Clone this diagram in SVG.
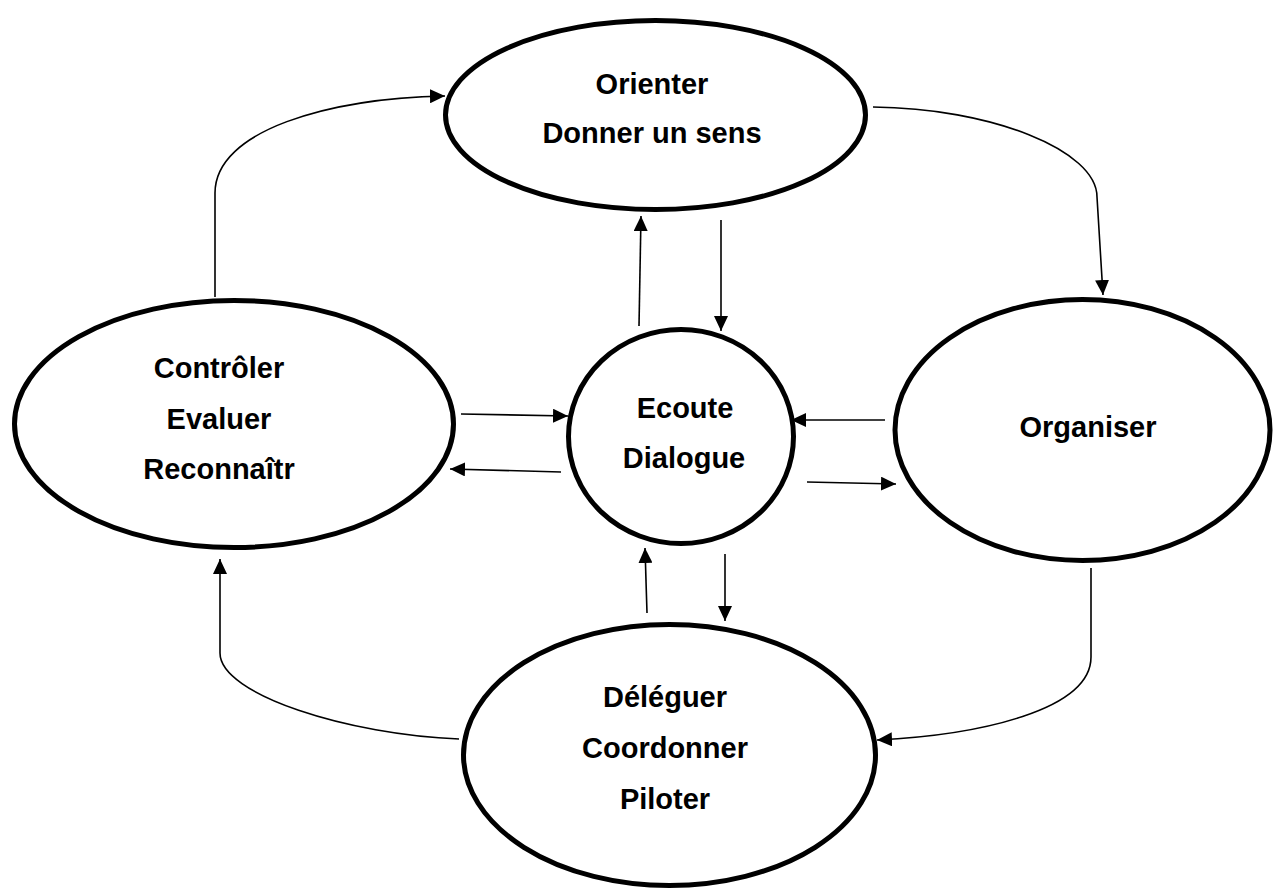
<svg xmlns="http://www.w3.org/2000/svg" width="1273" height="888" viewBox="0 0 1273 888">
<defs>
<style>
.node{fill:#fff;stroke:#000;stroke-width:5}
.lbl{font-family:"Liberation Sans",Arial,sans-serif;font-weight:bold;font-size:29px;text-anchor:middle;fill:#000}
.c{fill:none;stroke:#000;stroke-width:1.6;marker-end:url(#ah)}
</style>
<marker id="ah" markerUnits="userSpaceOnUse" markerWidth="16" markerHeight="14" refX="15" refY="7" orient="auto">
<path d="M0,0 L15,7 L0,14 z" fill="#000"/>
</marker>
</defs>
<rect width="1273" height="888" fill="#fff"/>
<g id="connectors">
<path class="c" d="M215,297 L215,193 C215,130 330,98 445,96"/>
<path class="c" d="M873,107 C990,108 1097,150 1097,197 L1103,295"/>
<path class="c" d="M1091,568 L1091,657 C1091,710 980,735 877,740"/>
<path class="c" d="M459,739 C350,735 220,695 220,653 L220,559"/>
<path class="c" d="M639,326 L641,216"/>
<path class="c" d="M721,220 L721,331"/>
<path class="c" d="M461,414 L568,416"/>
<path class="c" d="M561,472 L450,469"/>
<path class="c" d="M885,420 L791,420"/>
<path class="c" d="M807,482 L896,484"/>
<path class="c" d="M647,613 L645,548"/>
<path class="c" d="M725,554 L725,621"/>
</g>
<g id="orienter">
<ellipse class="node" cx="655.5" cy="115" rx="210" ry="94.5"/>
<text class="lbl" x="652" y="94">Orienter</text>
<text class="lbl" x="652" y="143">Donner un sens</text>
</g>
<g id="controler">
<ellipse class="node" cx="234" cy="424" rx="219.5" ry="123.5"/>
<text class="lbl" x="219" y="378">Contrôler</text>
<text class="lbl" x="219" y="429">Evaluer</text>
<text class="lbl" x="219" y="479">Reconnaîtr</text>
</g>
<g id="ecoute">
<ellipse class="node" cx="681" cy="436.5" rx="112.5" ry="107"/>
<text class="lbl" x="685" y="418">Ecoute</text>
<text class="lbl" x="684" y="468">Dialogue</text>
</g>
<g id="organiser">
<ellipse class="node" cx="1082.5" cy="430" rx="187.5" ry="130.5"/>
<text class="lbl" x="1088" y="437">Organiser</text>
</g>
<g id="deleguer">
<ellipse class="node" cx="669.5" cy="755" rx="206" ry="130.5"/>
<text class="lbl" x="665" y="707">Déléguer</text>
<text class="lbl" x="665" y="758">Coordonner</text>
<text class="lbl" x="665" y="809">Piloter</text>
</g>
</svg>
